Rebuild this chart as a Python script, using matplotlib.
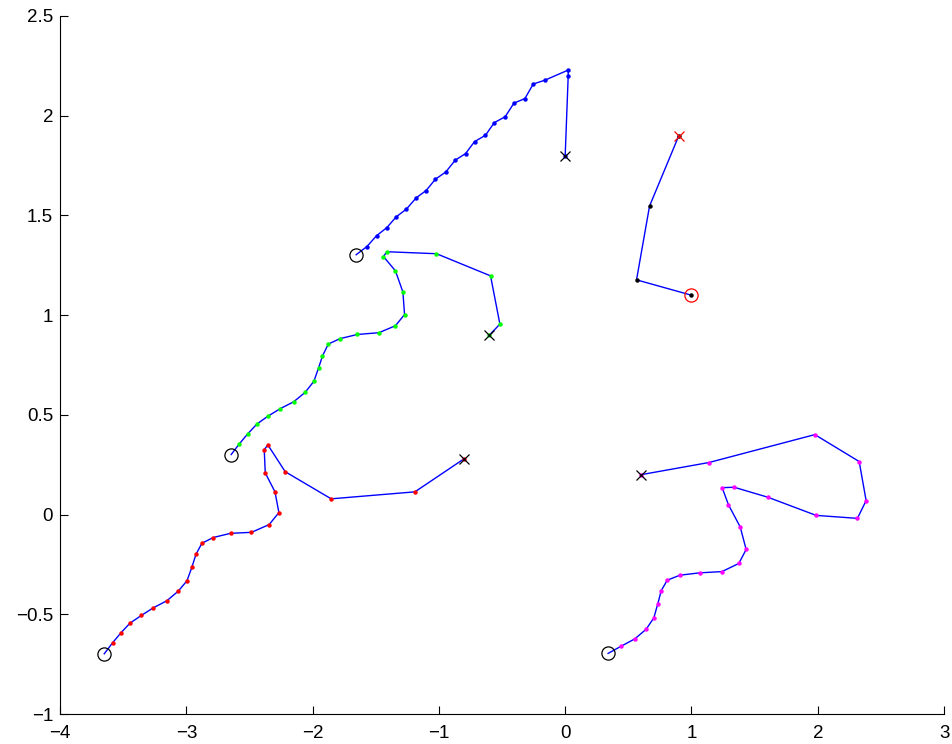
import matplotlib
matplotlib.use("Agg")
import matplotlib.pyplot as plt

plt.rcParams['font.family'] = ['Liberation Sans', 'DejaVu Sans']

# Trajectory 1 (blue dots)
s1_x = [-1.655, -1.570, -1.494, -1.412, -1.338, -1.257, -1.180, -1.101, -1.027, -0.945,
        -0.871, -0.789, -0.718, -0.631, -0.562, -0.475, -0.406, -0.319, -0.253, -0.161,
        0.024, 0.024, 0.0]
s1_y = [1.303, 1.344, 1.398, 1.439, 1.493, 1.532, 1.588, 1.625, 1.682, 1.718,
        1.777, 1.810, 1.870, 1.902, 1.965, 1.995, 2.063, 2.086, 2.159, 2.178,
        2.229, 2.201, 1.80]

# Trajectory 2 (green dots)
s2_x = [-2.645, -2.581, -2.515, -2.441, -2.357, -2.257, -2.151, -2.059, -1.990, -1.953,
        -1.922, -1.876, -1.784, -1.647, -1.475, -1.344, -1.272, -1.285, -1.344, -1.439,
        -1.412, -1.019, -0.591, -0.517, -0.600]
s2_y = [0.301, 0.354, 0.404, 0.454, 0.492, 0.531, 0.565, 0.613, 0.668, 0.735,
        0.795, 0.855, 0.882, 0.903, 0.912, 0.947, 1.003, 1.116, 1.222, 1.294,
        1.318, 1.308, 1.197, 0.955, 0.900]

# Trajectory 3 (red dots)
s3_x = [-3.650, -3.584, -3.518, -3.447, -3.357, -3.260, -3.154, -3.064, -2.995, -2.956,
        -2.924, -2.877, -2.787, -2.650, -2.484, -2.344, -2.267, -2.298, -2.375, -2.383,
        -2.354, -2.217, -1.853, -1.190, -0.800]
s3_y = [-0.698, -0.643, -0.593, -0.545, -0.506, -0.467, -0.432, -0.384, -0.332, -0.264,
        -0.200, -0.144, -0.115, -0.094, -0.089, -0.050, 0.010, 0.114, 0.209, 0.326,
        0.349, 0.215, 0.079, 0.114, 0.280]

# Trajectory 4 (magenta dots)
s4_x = [0.340, 0.443, 0.552, 0.641, 0.702, 0.734, 0.760, 0.808, 0.908, 1.066,
        1.241, 1.375, 1.433, 1.386, 1.293, 1.243, 1.338, 1.605, 1.987, 2.314,
        2.383, 2.328, 1.977, 1.138, 0.600]
s4_y = [-0.696, -0.660, -0.623, -0.575, -0.518, -0.446, -0.382, -0.329, -0.304, -0.292,
        -0.286, -0.245, -0.175, -0.062, 0.049, 0.135, 0.137, 0.087, -0.004, -0.019,
        0.070, 0.266, 0.401, 0.261, 0.200]

# Trajectory 5 (black dots, red start/end)
s5_x = [1.0, 0.565, 0.668, 0.900]
s5_y = [1.10, 1.177, 1.547, 1.900]

series = [
    (s1_x, s1_y, (0, 0, 1), 'k', False),
    (s2_x, s2_y, (0, 1, 0), 'k', False),
    (s3_x, s3_y, (1, 0, 0), 'k', False),
    (s4_x, s4_y, (1, 0, 1), 'k', False),
    (s5_x, s5_y, (0, 0, 0), (1, 0, 0), True),
]

fig = plt.figure(figsize=(9.53, 7.44), dpi=100)
ax = fig.add_axes([0.063, 0.0403, 0.9276, 0.9382])

for xs, ys, dcol, mcol, dot_start in series:
    ax.plot(xs, ys, '-', color=(0, 0, 1), lw=1.0, zorder=2)
    i0 = 0 if dot_start else 1
    ax.plot(xs[i0:], ys[i0:], 'o', color=dcol, ms=3.2, mew=0, zorder=3, linestyle='none')
    ax.plot(xs[0], ys[0], 'o', mfc='none', mec=mcol, ms=9.5, mew=0.9, zorder=4)
    ax.plot(xs[-1], ys[-1], 'x', color=mcol, ms=7, mew=0.9, zorder=4)

ax.set_xlim(-4, 3)
ax.set_ylim(-1, 2.5)
ax.set_xticks([-4, -3, -2, -1, 0, 1, 2, 3])
ax.set_yticks([-1, -0.5, 0, 0.5, 1, 1.5, 2, 2.5])
ax.set_yticklabels(['\u22121', '\u22120.5', '0', '0.5', '1', '1.5', '2', '2.5'])
ax.set_xticklabels(['\u22124', '\u22123', '\u22122', '\u22121', '0', '1', '2', '3'])
ax.spines['top'].set_visible(False)
ax.spines['right'].set_visible(False)
ax.spines['left'].set_linewidth(0.8)
ax.spines['bottom'].set_linewidth(0.8)
ax.tick_params(direction='in', length=5.5, width=0.8, labelsize=13.5)
ax.tick_params(axis='y', pad=5)
ax.tick_params(axis='x', pad=8)

fig.savefig('out.png', dpi=100)
